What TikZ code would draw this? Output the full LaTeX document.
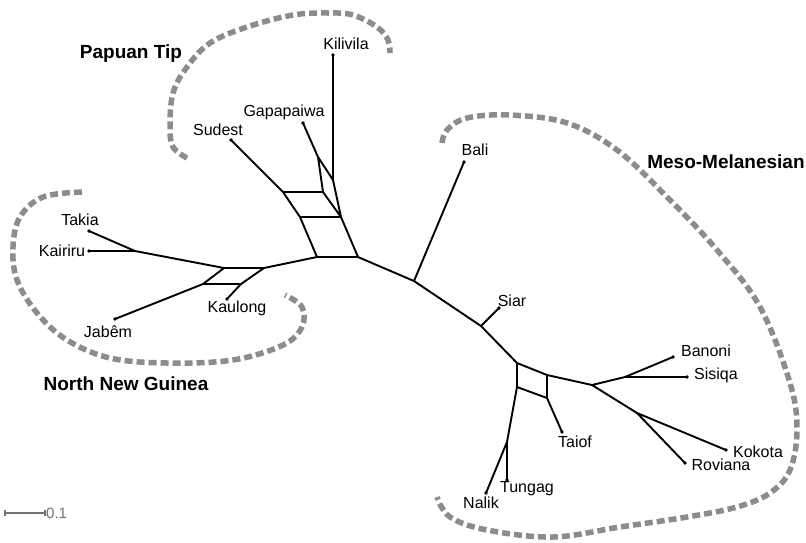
\documentclass[tikz,border=0pt]{standalone}
\usepackage{fontspec}
\setmainfont{Liberation Sans}
\begin{document}
\begin{tikzpicture}[x=1pt,y=-1pt,
  edge/.style={line width=1.9pt,line join=round},
  lab/.style={font=\fontsize{16}{16}\selectfont,inner sep=0pt},
  grp/.style={font=\fontsize{19}{19}\selectfont\bfseries,inner sep=0pt},
  hull/.style={draw=black!45,line width=5.5pt,dash pattern=on 8pt off 4pt},
  tipdot/.style={fill=black}]
\useasboundingbox (0,0) rectangle (806,542);
% ---- coordinates: Papuan Tip
\coordinate (K) at (333,55);
\coordinate (kj) at (333,180);
\coordinate (G) at (303,123);
\coordinate (gj) at (318,157);
\coordinate (S) at (231,140);
\coordinate (p1) at (283,192);
\coordinate (p2) at (323,192);
\coordinate (p3) at (300,217);
\coordinate (p4) at (341,217);
\coordinate (p5) at (317,257);
\coordinate (p6) at (358,257);
% ---- North New Guinea
\coordinate (n1) at (264,268);
\coordinate (n2) at (224,268);
\coordinate (n3) at (203,284);
\coordinate (n4) at (241,284);
\coordinate (tk) at (135,251);
\coordinate (Ta) at (89,231);
\coordinate (Ka) at (89,251);
\coordinate (Ja) at (115,319);
\coordinate (Kl) at (227,299);
% ---- centre and Meso-Melanesian
\coordinate (b) at (414,281);
\coordinate (Ba) at (464,162);
\coordinate (si) at (481,326);
\coordinate (Si) at (499,308);
\coordinate (m1) at (517,363);
\coordinate (m2) at (547,375);
\coordinate (m3) at (547,398);
\coordinate (m4) at (517,387);
\coordinate (Tf) at (562,432);
\coordinate (tn) at (507,442);
\coordinate (Tu) at (507,480);
\coordinate (Na) at (486,493);
\coordinate (m5) at (592,385);
\coordinate (bs) at (625,377);
\coordinate (Bn) at (673,357);
\coordinate (Sq) at (687,377);
\coordinate (rk) at (637,413);
\coordinate (Ko) at (726,450);
\coordinate (Ro) at (685,463);
% ---- hulls
\draw[hull] plot[smooth,tension=0.6] coordinates {(187,158) (173,147) (170,127) (173,93) (187,67) (210,43) (247,27) (293,15) (330,13) (353,15) (377,27) (388,40) (390,53)};
\draw[hull] plot[smooth,tension=0.6] coordinates {(82,192) (43,197) (20,217) (13,247) (17,280) (37,313) (67,340) (110,358) (167,363) (233,360) (283,345) (302,327) (302,307) (285,295)};
\draw[hull] plot[smooth,tension=0.6] coordinates {(442,143) (447,130) (467,118) (510,115) (567,123) (617,150) (667,197) (717,250) (760,307) (790,383) (797,430) (790,470) (770,493) (737,507) (687,517) (620,527) (553,537) (487,530) (450,517) (437,497)};
% ---- edges
\draw[edge] (S) -- (p1) (p1) -- (p2) (p1) -- (p3) (p3) -- (p4) (p3) -- (p5) (p5) -- (p6)
  (G) -- (gj) (gj) -- (kj) (gj) -- (p2) (K) -- (kj) (kj) -- (p4) (p2) -- (p4) (p4) -- (p6);
\draw[edge] (p5) -- (n1) (n1) -- (n2) (n2) -- (tk) (tk) -- (Ta) (tk) -- (Ka)
  (n2) -- (n3) (n3) -- (n4) (n4) -- (n1) (n3) -- (Ja) (n4) -- (Kl);
\draw[edge] (p6) -- (b) (b) -- (Ba) (b) -- (si) (si) -- (Si) (si) -- (m1)
  (m1) -- (m2) (m1) -- (m4) (m2) -- (m3) (m4) -- (m3) (m3) -- (Tf)
  (m4) -- (tn) (tn) -- (Tu) (tn) -- (Na)
  (m2) -- (m5) (m5) -- (bs) (bs) -- (Bn) (bs) -- (Sq)
  (m5) -- (rk) (rk) -- (Ko) (rk) -- (Ro);
\foreach \t in {K,G,S,Ta,Ka,Ja,Kl,Ba,Si,Tf,Tu,Na,Bn,Sq,Ko,Ro}
  \fill[tipdot] (\t) circle (1.8);
% ---- labels
\node[lab] (lK) at (346,44) {Kilivila};
\node[lab] (lG) at (284,112) {Gapapaiwa};
\node[lab] (lS) at (218,130) {Sudest};
\node[lab] (lTa) at (80,220) {Takia};
\node[lab] (lKa) at (62,251) {Kairiru};
\node[lab] (lJa) at (108,332) {Jabêm};
\node[lab] (lKl) at (237,308) {Kaulong};
\node[lab] (lBa) at (475,150) {Bali};
\node[lab] (lSi) at (512,301) {Siar};
\node[lab] (lBn) at (706,351) {Banoni};
\node[lab] (lSq) at (716,375) {Sisiqa};
\node[lab] (lTf) at (575,442) {Taiof};
\node[lab] (lTu) at (527,489) {Tungag};
\node[lab] (lNa) at (481,503) {Nalik};
\node[lab] (lKo) at (758,452) {Kokota};
\node[lab] (lRo) at (721,465) {Roviana};
\node[grp] (gP) at (131,54) {Papuan Tip};
\node[grp] (gN) at (126,384) {North New Guinea};
\node[grp] (gM) at (726,162) {Meso-Melanesian};
% ---- scale bar
\coordinate (sb1) at (5,513);
\coordinate (sb2) at (45,513);
\draw[black!55,line width=1.2pt] (sb1) -- (sb2);
\draw[black!55,line width=1.2pt] ([yshift=-3]sb1) -- ([yshift=3]sb1) ([yshift=-3]sb2) -- ([yshift=3]sb2);
\node[anchor=west,inner sep=1pt,text=black!55,font=\fontsize{15}{15}\selectfont] (sbl) at (sb2) {0.1};
\end{tikzpicture}
\end{document}
